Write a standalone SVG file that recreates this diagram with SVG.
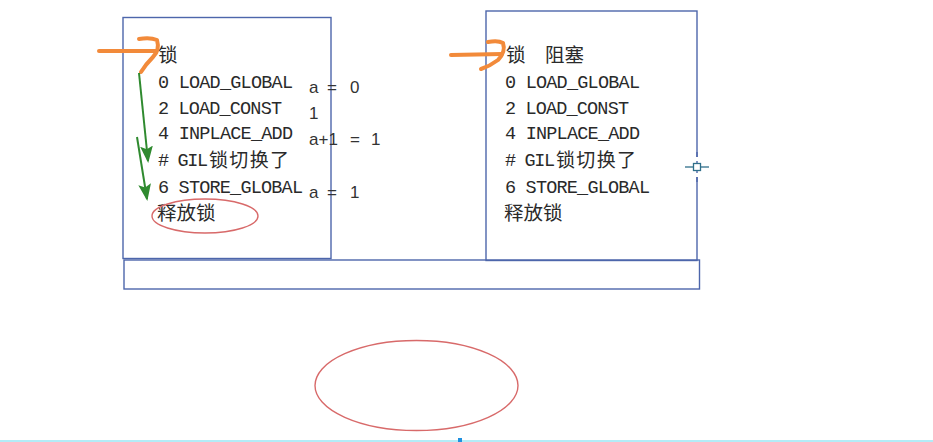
<svg xmlns="http://www.w3.org/2000/svg" width="933" height="442" viewBox="0 0 933 442">
<style>
.box{fill:none;stroke:#4d66ab;stroke-width:1.4}
.code{font-family:"Liberation Mono","Noto Sans CJK SC",monospace;font-size:18.5px;fill:#2a2a2a}
.cjk{font-family:"Noto Sans CJK SC",sans-serif;font-size:19.5px;fill:#2a2a2a}
.cjk2{font-family:"Noto Sans CJK SC",sans-serif;font-size:19px;fill:#2a2a2a}
.note{font-family:"Liberation Sans","Noto Sans",sans-serif;font-size:17px;fill:#333}
.orange{fill:none;stroke:#f28a3a;stroke-width:4;stroke-linecap:round;stroke-linejoin:round}
.green{fill:none;stroke:#2f8a2f;stroke-width:2}
.red{fill:none;stroke:#d86a6a;stroke-width:1.4}
</style>
<defs>
<marker id="gh" viewBox="0 0 16 12" refX="14" refY="6" markerWidth="17" markerHeight="13" orient="auto" markerUnits="userSpaceOnUse">
<path d="M0,0 L16,6 L0,12 L3,6 z" fill="#2f8a2f"/>
</marker>
</defs>
<rect width="933" height="442" fill="#ffffff"/>

<g id="bottom-bar">
<rect class="box" x="124" y="260" width="575.5" height="29"/>
</g>

<g id="left-box">
<rect class="box" x="123" y="17.5" width="208" height="241"/>
<text class="cjk" x="158" y="62">锁</text>
<text class="code" x="158" y="88" textLength="135">0 LOAD_GLOBAL</text>
<text class="code" x="158" y="114" textLength="124">2 LOAD_CONST</text>
<text class="code" x="158" y="139" textLength="135">4 INPLACE_ADD</text>
<text class="code" x="158" y="166" textLength="50"># GIL</text>
<text class="cjk2" x="209" y="166.5" textLength="80">锁切换了</text>
<text class="code" x="158" y="193" textLength="145">6 STORE_GLOBAL</text>
<text class="cjk" x="157" y="220">释放锁</text>
<ellipse class="red" cx="205" cy="216" rx="53" ry="17"/>
</g>

<g id="notes">
<text class="note" x="309" y="93">a</text><text class="note" x="327" y="93">=</text><text class="note" x="350" y="93">0</text>
<text class="note" x="309" y="119">1</text>
<text class="note" x="309" y="145">a+1</text><text class="note" x="350" y="145">=</text><text class="note" x="371" y="145">1</text>
<text class="note" x="309" y="198">a</text><text class="note" x="327" y="198">=</text><text class="note" x="350" y="198">1</text>
</g>

<g id="right-box">
<rect class="box" x="486" y="11" width="211" height="249.5"/>
<text class="cjk" x="506" y="62">锁</text>
<text class="cjk" x="545" y="62">阻塞</text>
<text class="code" x="505" y="88" textLength="135">0 LOAD_GLOBAL</text>
<text class="code" x="505" y="114" textLength="124">2 LOAD_CONST</text>
<text class="code" x="505" y="139" textLength="135">4 INPLACE_ADD</text>
<text class="code" x="505" y="166" textLength="50"># GIL</text>
<text class="cjk2" x="556" y="166.5" textLength="80">锁切换了</text>
<text class="code" x="505" y="193" textLength="145">6 STORE_GLOBAL</text>
<text class="cjk" x="504" y="220">释放锁</text>
</g>

<g id="big-ellipse">
<ellipse class="red" cx="416.5" cy="385.5" rx="101.5" ry="45"/>
</g>

<g id="connectors">
<path class="orange" d="M99,51 L156,51"/>
<path class="orange" d="M139,39 Q150,37 157,40 Q160,50 153,57 Q146,64 141,72"/>
<path class="orange" d="M451,55 L502,54"/>
<path class="orange" d="M488,42 Q498,40 503,43 Q506,52 498,60 Q490,66 481,69"/>
<path class="green" d="M139,73 L148,161" marker-end="url(#gh)"/>
<path class="green" d="M137,137 L147,199" marker-end="url(#gh)"/>
</g>

<g id="crosshair">
<rect x="694" y="157" width="6" height="20" fill="#ffffff"/>
<line x1="697" y1="152" x2="697" y2="182" stroke="#4d66ab" stroke-width="1.4"/>
<rect x="693.5" y="163.5" width="7" height="7" fill="#ffffff" stroke="#2f6f8a" stroke-width="1.3"/>
<line x1="685" y1="167" x2="693.5" y2="167" stroke="#2f6f8a" stroke-width="1.3"/>
<line x1="700.5" y1="167" x2="709" y2="167" stroke="#2f6f8a" stroke-width="1.3"/>
<rect x="695" y="157" width="4" height="4" fill="#ffffff"/>
<rect x="695" y="173" width="4" height="4" fill="#ffffff"/>
</g>

<g id="screen-edge">
<rect x="0" y="440" width="933" height="2" fill="#b3ecf7"/>
<rect x="458" y="438" width="4" height="4" fill="#1e90e0"/>
</g>
</svg>
